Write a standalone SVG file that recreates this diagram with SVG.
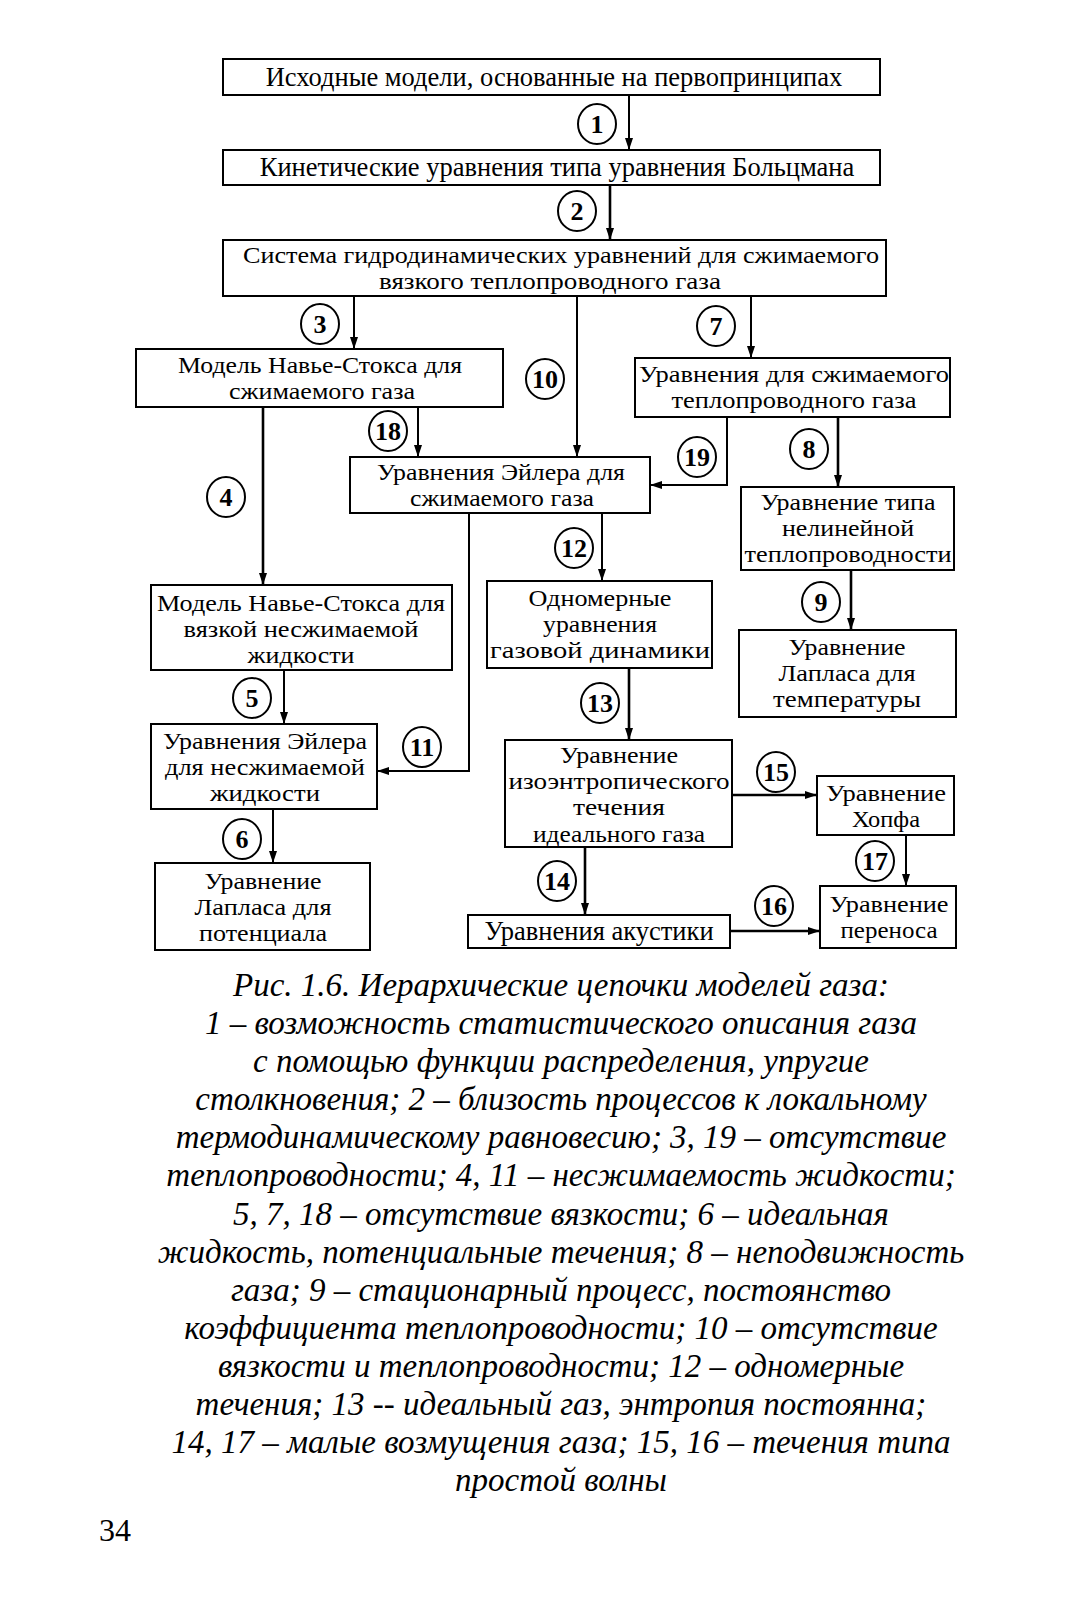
<svg xmlns="http://www.w3.org/2000/svg" width="1067" height="1600" viewBox="0 0 1067 1600">
<defs>
<marker id="ah" markerUnits="userSpaceOnUse" markerWidth="12" markerHeight="8" refX="12" refY="4" orient="auto">
<path d="M0,0 L12,4 L0,8 z" fill="#000"/>
</marker>
<style>
.bx{fill:#fff;stroke:#000;stroke-width:2}
.t{font-family:"Liberation Serif","DejaVu Serif",serif;font-size:23.2px;text-anchor:middle;fill:#000}
.t1{font-family:"Liberation Serif","DejaVu Serif",serif;font-size:26.5px;text-anchor:middle;fill:#000}
.n{font-family:"Liberation Serif","DejaVu Serif",serif;font-size:26px;font-weight:bold;text-anchor:middle;fill:#000}
.c{fill:none;stroke:#000;stroke-width:2}
.ln{fill:none;stroke:#000;stroke-width:2;marker-end:url(#ah)}
.th{stroke-width:2.6}
.cap{font-family:"Liberation Serif","DejaVu Serif",serif;font-style:italic;font-size:33px;text-anchor:middle;fill:#000}
.pg{font-family:"Liberation Serif","DejaVu Serif",serif;font-size:32px;fill:#000}
</style>
</defs>
<rect width="1067" height="1600" fill="#fff"/>

<g id="connectors">
<path class="ln" d="M629,95 V150"/>
<path class="ln th" d="M610,185 V240"/>
<path class="ln" d="M354,296 V349"/>
<path class="ln" d="M577,296 V457"/>
<path class="ln" d="M751,296 V358"/>
<path class="ln" d="M418,407 V457"/>
<path class="ln th" d="M263,407 V585"/>
<path class="ln" d="M727,417 V485 H650"/>
<path class="ln th" d="M838,417 V487"/>
<path class="ln" d="M469,513 V771 H377"/>
<path class="ln" d="M602,513 V581"/>
<path class="ln th" d="M851,570 V630"/>
<path class="ln" d="M284,670 V724"/>
<path class="ln th" d="M629,668 V740"/>
<path class="ln th" d="M732,795 H817"/>
<path class="ln" d="M273,809 V863"/>
<path class="ln th" d="M585,847 V915"/>
<path class="ln" d="M906,835 V886"/>
<path class="ln th" d="M730,931 H820"/>
<g id="labels">
<ellipse class="c" cx="597" cy="124" rx="19" ry="20"/><text class="n" x="597" y="133">1</text>
<ellipse class="c" cx="577" cy="211" rx="19" ry="20"/><text class="n" x="577" y="220">2</text>
<ellipse class="c" cx="320" cy="324" rx="19" ry="20"/><text class="n" x="320" y="333">3</text>
<ellipse class="c" cx="545" cy="379" rx="19" ry="20"/><text class="n" x="545" y="388">10</text>
<ellipse class="c" cx="716" cy="326" rx="19" ry="20"/><text class="n" x="716" y="335">7</text>
<ellipse class="c" cx="388" cy="431" rx="19" ry="20"/><text class="n" x="388" y="440">18</text>
<ellipse class="c" cx="226" cy="497" rx="19" ry="20"/><text class="n" x="226" y="506">4</text>
<ellipse class="c" cx="697" cy="457" rx="19" ry="20"/><text class="n" x="697" y="466">19</text>
<ellipse class="c" cx="809" cy="449" rx="19" ry="20"/><text class="n" x="809" y="458">8</text>
<ellipse class="c" cx="422" cy="747" rx="19" ry="20"/><text class="n" x="422" y="756">11</text>
<ellipse class="c" cx="574" cy="548" rx="19" ry="20"/><text class="n" x="574" y="557">12</text>
<ellipse class="c" cx="821" cy="602" rx="19" ry="20"/><text class="n" x="821" y="611">9</text>
<ellipse class="c" cx="252" cy="698" rx="19" ry="20"/><text class="n" x="252" y="707">5</text>
<ellipse class="c" cx="600" cy="703" rx="19" ry="20"/><text class="n" x="600" y="712">13</text>
<ellipse class="c" cx="776" cy="772" rx="19" ry="20"/><text class="n" x="776" y="781">15</text>
<ellipse class="c" cx="242" cy="839" rx="19" ry="20"/><text class="n" x="242" y="848">6</text>
<ellipse class="c" cx="557" cy="881" rx="19" ry="20"/><text class="n" x="557" y="890">14</text>
<ellipse class="c" cx="875" cy="861" rx="19" ry="20"/><text class="n" x="875" y="870">17</text>
<ellipse class="c" cx="774" cy="906" rx="19" ry="20"/><text class="n" x="774" y="915">16</text>
</g>
</g>

<g id="n-initial"><rect class="bx" x="223" y="59" width="657" height="36"/><text class="t1" x="554" y="86">Исходные модели, основанные на первопринципах</text></g>
<g id="n-kinetic"><rect class="bx" x="223" y="150" width="657" height="35"/><text class="t1" x="557" y="176">Кинетические уравнения типа уравнения Больцмана</text></g>
<g id="n-hydro"><rect class="bx" x="223" y="240" width="663" height="56"/><text class="t" x="561" y="263" textLength="636" lengthAdjust="spacingAndGlyphs">Система гидродинамических уравнений для сжимаемого</text><text class="t" x="550" y="289" textLength="342" lengthAdjust="spacingAndGlyphs">вязкого теплопроводного газа</text></g>
<g id="n-ns-comp"><rect class="bx" x="136" y="349" width="367" height="58"/><text class="t" x="320" y="373" textLength="284" lengthAdjust="spacingAndGlyphs">Модель Навье-Стокса для</text><text class="t" x="322" y="399" textLength="186" lengthAdjust="spacingAndGlyphs">сжимаемого газа</text></g>
<g id="n-heat-comp"><rect class="bx" x="635" y="358" width="315" height="59"/><text class="t" x="794" y="382" textLength="310" lengthAdjust="spacingAndGlyphs">Уравнения для сжимаемого</text><text class="t" x="794" y="408" textLength="245" lengthAdjust="spacingAndGlyphs">теплопроводного газа</text></g>
<g id="n-euler-comp"><rect class="bx" x="350" y="457" width="300" height="56"/><text class="t" x="501" y="480" textLength="248" lengthAdjust="spacingAndGlyphs">Уравнения Эйлера для</text><text class="t" x="502" y="506" textLength="184" lengthAdjust="spacingAndGlyphs">сжимаемого газа</text></g>
<g id="n-nonlinear"><rect class="bx" x="741" y="487" width="213" height="83"/><text class="t" x="848" y="510" textLength="175" lengthAdjust="spacingAndGlyphs">Уравнение типа</text><text class="t" x="848" y="536" textLength="132" lengthAdjust="spacingAndGlyphs">нелинейной</text><text class="t" x="848" y="562" textLength="207" lengthAdjust="spacingAndGlyphs">теплопроводности</text></g>
<g id="n-ns-incomp"><rect class="bx" x="151" y="585" width="301" height="85"/><text class="t" x="301" y="611" textLength="288" lengthAdjust="spacingAndGlyphs">Модель Навье-Стокса для</text><text class="t" x="301" y="637" textLength="235" lengthAdjust="spacingAndGlyphs">вязкой несжимаемой</text><text class="t" x="301" y="663" textLength="107" lengthAdjust="spacingAndGlyphs">жидкости</text></g>
<g id="n-1d"><rect class="bx" x="487" y="581" width="225" height="87"/><text class="t" x="600" y="606" textLength="143" lengthAdjust="spacingAndGlyphs">Одномерные</text><text class="t" x="600" y="632" textLength="114" lengthAdjust="spacingAndGlyphs">уравнения</text><text class="t" x="600" y="658" textLength="220" lengthAdjust="spacingAndGlyphs">газовой динамики</text></g>
<g id="n-laplace-t"><rect class="bx" x="739" y="630" width="217" height="87"/><text class="t" x="847" y="655" textLength="117" lengthAdjust="spacingAndGlyphs">Уравнение</text><text class="t" x="847" y="681" textLength="137" lengthAdjust="spacingAndGlyphs">Лапласа для</text><text class="t" x="847" y="707" textLength="148" lengthAdjust="spacingAndGlyphs">температуры</text></g>
<g id="n-euler-incomp"><rect class="bx" x="151" y="724" width="226" height="85"/><text class="t" x="265" y="749" textLength="204" lengthAdjust="spacingAndGlyphs">Уравнения Эйлера</text><text class="t" x="265" y="775" textLength="200" lengthAdjust="spacingAndGlyphs">для несжимаемой</text><text class="t" x="265" y="801" textLength="110" lengthAdjust="spacingAndGlyphs">жидкости</text></g>
<g id="n-isentropic"><rect class="bx" x="505" y="740" width="227" height="107"/><text class="t" x="619" y="763" textLength="118" lengthAdjust="spacingAndGlyphs">Уравнение</text><text class="t" x="619" y="789" textLength="221" lengthAdjust="spacingAndGlyphs">изоэнтропического</text><text class="t" x="619" y="815" textLength="92" lengthAdjust="spacingAndGlyphs">течения</text><text class="t" x="619" y="842" textLength="172" lengthAdjust="spacingAndGlyphs">идеального газа</text></g>
<g id="n-hopf"><rect class="bx" x="817" y="776" width="137" height="59"/><text class="t" x="886" y="801" textLength="120" lengthAdjust="spacingAndGlyphs">Уравнение</text><text class="t" x="886" y="827" textLength="68" lengthAdjust="spacingAndGlyphs">Хопфа</text></g>
<g id="n-laplace-p"><rect class="bx" x="155" y="863" width="215" height="87"/><text class="t" x="263" y="889" textLength="117" lengthAdjust="spacingAndGlyphs">Уравнение</text><text class="t" x="263" y="915" textLength="137" lengthAdjust="spacingAndGlyphs">Лапласа для</text><text class="t" x="263" y="941" textLength="128" lengthAdjust="spacingAndGlyphs">потенциала</text></g>
<g id="n-acoustics"><rect class="bx" x="468" y="915" width="262" height="33"/><text class="t1" x="599" y="940">Уравнения акустики</text></g>
<g id="n-transport"><rect class="bx" x="820" y="886" width="136" height="62"/><text class="t" x="889" y="912" textLength="119" lengthAdjust="spacingAndGlyphs">Уравнение</text><text class="t" x="889" y="938" textLength="97" lengthAdjust="spacingAndGlyphs">переноса</text></g>

<g id="caption">
<text class="cap" x="561" y="996">Рис. 1.6. Иерархические цепочки моделей газа:</text>
<text class="cap" x="561" y="1034">1 – возможность статистического описания газа</text>
<text class="cap" x="561" y="1072">с помощью функции распределения, упругие</text>
<text class="cap" x="561" y="1110">столкновения; 2 – близость процессов к локальному</text>
<text class="cap" x="561" y="1148">термодинамическому равновесию; 3, 19 – отсутствие</text>
<text class="cap" x="561" y="1186">теплопроводности; 4, 11 – несжимаемость жидкости;</text>
<text class="cap" x="561" y="1225">5, 7, 18 – отсутствие вязкости; 6 – идеальная</text>
<text class="cap" x="561" y="1263">жидкость, потенциальные течения; 8 – неподвижность</text>
<text class="cap" x="561" y="1301">газа; 9 – стационарный процесс, постоянство</text>
<text class="cap" x="561" y="1339">коэффициента теплопроводности; 10 – отсутствие</text>
<text class="cap" x="561" y="1377">вязкости и теплопроводности; 12 – одномерные</text>
<text class="cap" x="561" y="1415">течения; 13 -- идеальный газ, энтропия постоянна;</text>
<text class="cap" x="561" y="1453">14, 17 – малые возмущения газа; 15, 16 – течения типа</text>
<text class="cap" x="561" y="1491">простой волны</text>
</g>
<text class="pg" x="99" y="1541">34</text>
</svg>
